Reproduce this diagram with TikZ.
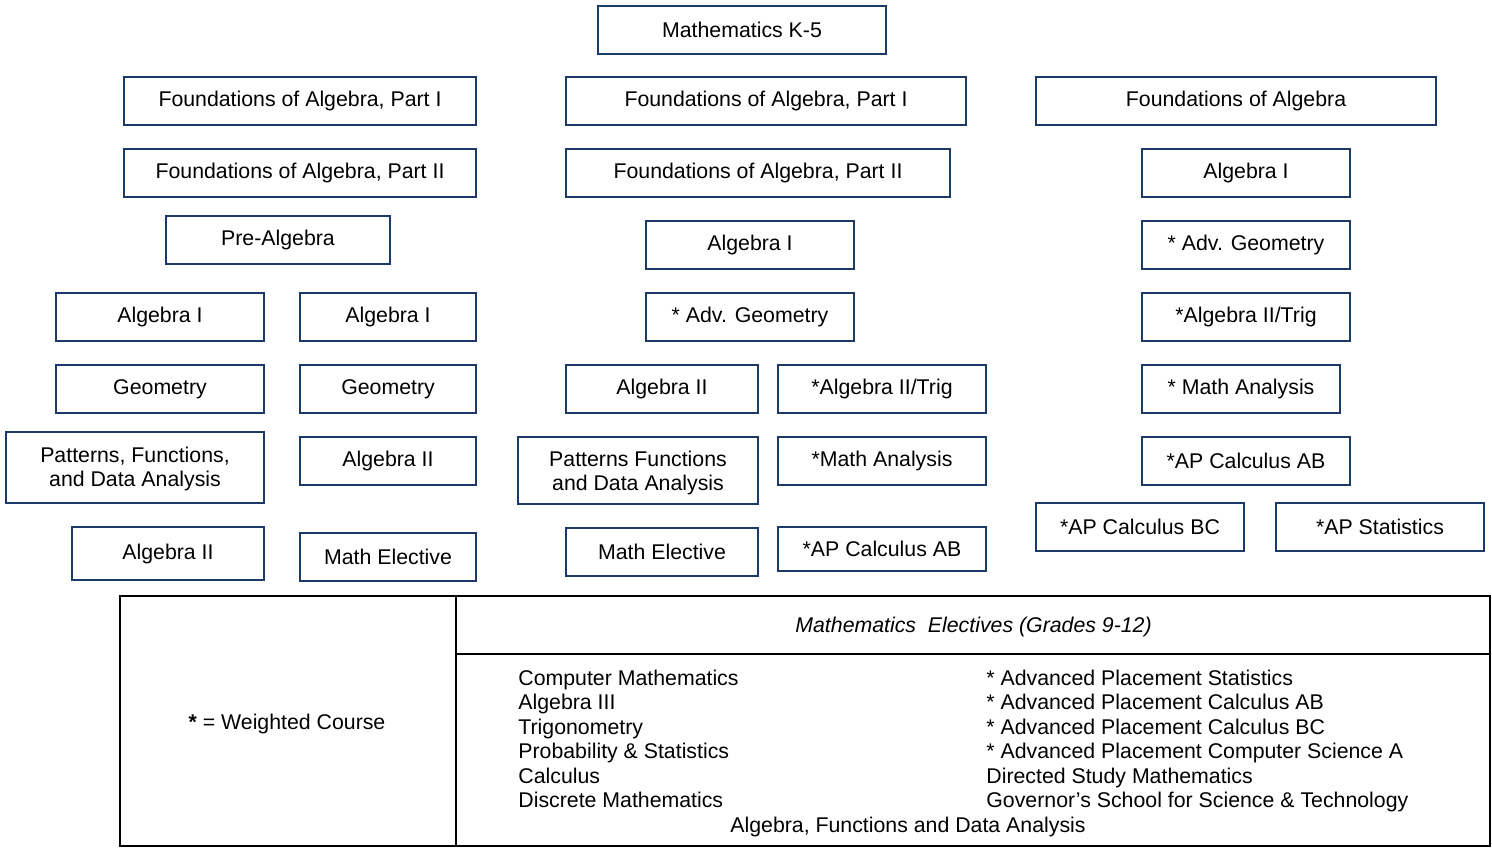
\documentclass[tikz,border=0pt]{standalone}
\usepackage{fontspec}
\setmainfont{Liberation Sans}
\definecolor{boxblue}{RGB}{28,58,104}
\tikzset{
  box/.style={draw=boxblue, line width=1.1pt, fill=white, inner sep=0pt, align=center,
    font=\fontsize{10.65}{12.2}\selectfont},
  tabtxt/.style={inner sep=0pt, font=\fontsize{10.65}{12.2}\selectfont},
  tabline/.style={draw=black, line width=1pt}
}
\newcommand\bx[6]{\node[box, minimum width={(#4-#2)*0.5pt}, minimum height={(#5-#3)*0.5pt}] (#1) at ({(#2+#4)/2},{(#3+#5)/2}) {#6};}
\newcommand\lowered[2]{\raisebox{-#1}[\height][\depth]{\begin{tabular}{@{}c@{}}#2\end{tabular}}}
\begin{document}
\begin{tikzpicture}[x=0.5pt,y=-0.5pt]
\useasboundingbox (0,0) rectangle (1492,848);
% top
\bx{k5}{598}{6}{886}{54}{Mathematics K-5}
% column 1
\bx{aFa}{124}{77}{476}{125}{Foundations of Algebra, Part I}
\bx{aFb}{124}{149}{476}{197}{Foundations of Algebra, Part II}
\bx{aPre}{166}{216}{390}{264}{Pre-Algebra}
\bx{aAlgIa}{56}{293}{264}{341}{Algebra I}
\bx{aAlgIb}{300}{293}{476}{341}{Algebra I}
\bx{aGeoa}{56}{365}{264}{413}{Geometry}
\bx{aGeob}{300}{365}{476}{413}{Geometry}
\bx{aPat}{6}{432}{264}{503}{\lowered{1pt}{Patterns, Functions,\\and Data Analysis}}
\bx{aAlgIIb}{300}{437}{476}{485}{Algebra II}
\bx{aAlgIIa}{72}{527}{264}{580}{Algebra II}
\bx{aElec}{300}{533}{476}{581}{Math Elective}
% column 2
\bx{bFa}{566}{77}{966}{125}{Foundations of Algebra, Part I}
\bx{bFb}{566}{149}{950}{197}{Foundations of Algebra, Part II}
\bx{bAlgI}{646}{221}{854}{269}{Algebra I}
\bx{bGeo}{646}{293}{854}{341}{* Adv. Geometry}
\bx{bAlgII}{566}{365}{758}{413}{Algebra II}
\bx{bTrig}{778}{365}{986}{413}{*Algebra II/Trig}
\bx{bPat}{518}{437}{758}{504}{\lowered{1.5pt}{Patterns Functions\\and Data Analysis}}
\bx{bMA}{778}{437}{986}{485}{*Math Analysis}
\bx{bElec}{566}{528}{758}{576}{Math Elective}
\bx{bAB}{778}{527}{986}{571}{*AP Calculus AB}
% column 3
\bx{cF}{1036}{77}{1436}{125}{Foundations of Algebra}
\bx{cAlgI}{1142}{149}{1350}{197}{Algebra I}
\bx{cGeo}{1142}{221}{1350}{269}{* Adv. Geometry}
\bx{cTrig}{1142}{293}{1350}{341}{*Algebra II/Trig}
\bx{cMA}{1142}{365}{1340}{413}{* Math Analysis}
\bx{cAB}{1142}{437}{1350}{485}{*AP Calculus AB}
\bx{cBC}{1036}{503}{1244}{551}{*AP Calculus BC}
\bx{cStat}{1276}{503}{1484}{551}{*AP Statistics}
% table
\draw[tabline] (120,596) rectangle (1490,846);
\draw[tabline] (456,596) -- (456,846);
\draw[tabline] (456,654) -- (1490,654);
\node[tabtxt, anchor=base] (weighted) at (287,729) {\textbf{*} = Weighted Course};
\node[tabtxt, anchor=base west] (title) at (795,632) {\itshape Mathematics\ \ Electives (Grades 9-12)};
\node[tabtxt, anchor=base west] (l1) at (518,685.5) {Computer Mathematics};
\node[tabtxt, anchor=base west] (l2) at (518,709.5) {Algebra III};
\node[tabtxt, anchor=base west] (l3) at (518,734) {Trigonometry};
\node[tabtxt, anchor=base west] (l4) at (518,758) {Probability \& Statistics};
\node[tabtxt, anchor=base west] (l5) at (518,783) {Calculus};
\node[tabtxt, anchor=base west] (l6) at (518,807) {Discrete Mathematics};
\node[tabtxt, anchor=base west] (r1) at (986,685.5) {* Advanced Placement Statistics};
\node[tabtxt, anchor=base west] (r2) at (986,709.5) {* Advanced Placement Calculus AB};
\node[tabtxt, anchor=base west] (r3) at (986,734) {* Advanced Placement Calculus BC};
\node[tabtxt, anchor=base west] (r4) at (986,758) {* Advanced Placement Computer Science A};
\node[tabtxt, anchor=base west] (r5) at (986,783) {Directed Study Mathematics};
\node[tabtxt, anchor=base west] (r6) at (986,807) {Governor’s School for Science \& Technology};
\node[tabtxt, anchor=base west] (last) at (730,832) {Algebra, Functions and Data Analysis};
\end{tikzpicture}
\end{document}
